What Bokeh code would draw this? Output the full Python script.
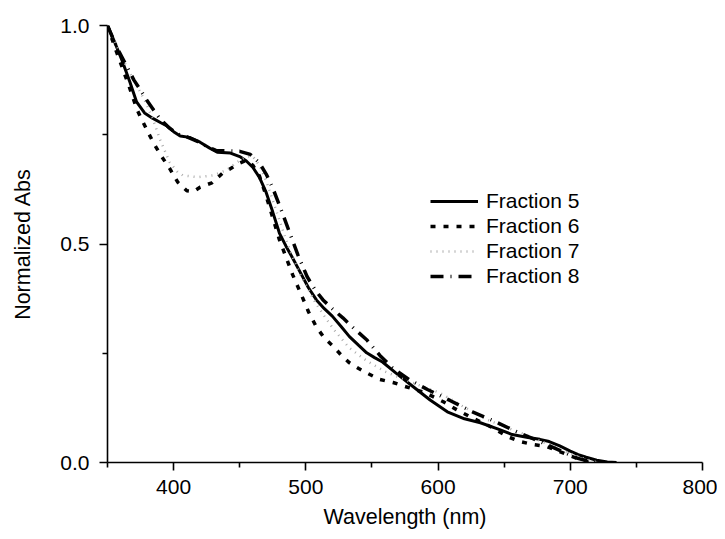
from bokeh.plotting import figure
from bokeh.models import FixedTicker, PrintfTickFormatter, Legend, LegendItem, Range1d
from bokeh.embed import file_html
from bokeh.resources import INLINE

# ---- data ----
wl5 = [350, 355, 361, 367, 372, 378, 384, 390, 395, 400, 405, 412, 420, 427, 433, 443, 450, 455, 460, 465, 470, 475, 480, 485, 490, 496, 502, 508, 514, 520, 527, 533, 540, 546, 552, 558, 568, 581, 594, 607, 620, 632, 645, 656, 668, 677, 684, 692, 700, 706, 712, 720, 728, 735]
ab5 = [1.0, 0.965, 0.92, 0.87, 0.825, 0.80, 0.788, 0.778, 0.770, 0.757, 0.747, 0.744, 0.733, 0.720, 0.710, 0.708, 0.700, 0.690, 0.675, 0.652, 0.618, 0.573, 0.525, 0.495, 0.468, 0.434, 0.400, 0.372, 0.352, 0.335, 0.310, 0.288, 0.268, 0.251, 0.240, 0.230, 0.205, 0.174, 0.143, 0.116, 0.100, 0.091, 0.077, 0.064, 0.057, 0.053, 0.048, 0.038, 0.026, 0.018, 0.012, 0.005, 0.001, 0.0]

wl6 = [350, 355, 361, 367, 372, 375, 380, 385, 391, 397, 403, 410, 415, 420, 429, 437, 445, 450, 455, 460, 465, 470, 475, 480, 485, 490, 496, 502, 508, 514, 521, 527, 533, 540, 546, 556, 566, 575, 590, 604, 614, 624, 641, 652, 662, 672, 682, 692, 701, 711, 718]
ab6 = [1.0, 0.955, 0.905, 0.855, 0.81, 0.79, 0.76, 0.73, 0.70, 0.673, 0.642, 0.622, 0.620, 0.630, 0.640, 0.662, 0.676, 0.685, 0.692, 0.680, 0.655, 0.610, 0.560, 0.510, 0.470, 0.430, 0.388, 0.345, 0.310, 0.285, 0.265, 0.245, 0.228, 0.215, 0.205, 0.190, 0.183, 0.174, 0.160, 0.139, 0.121, 0.105, 0.080, 0.060, 0.048, 0.041, 0.037, 0.025, 0.014, 0.003, 0.0]

wl7 = [350, 356, 362, 370, 379, 385, 390, 397, 403, 407, 418, 430, 440, 448, 455, 460, 465, 470, 475, 480, 485, 490, 496, 502, 508, 514, 521, 527, 533, 540, 546, 552, 560, 571, 588, 601, 619, 637, 652, 669, 687, 700, 712, 722]
ab7 = [1.0, 0.96, 0.92, 0.874, 0.824, 0.78, 0.737, 0.687, 0.665, 0.657, 0.653, 0.657, 0.669, 0.687, 0.700, 0.700, 0.680, 0.645, 0.600, 0.555, 0.510, 0.470, 0.430, 0.395, 0.362, 0.335, 0.305, 0.283, 0.262, 0.246, 0.233, 0.222, 0.208, 0.194, 0.174, 0.160, 0.128, 0.098, 0.080, 0.060, 0.037, 0.020, 0.007, 0.0]

wl8 = [350, 357, 365, 370, 375, 380, 385, 390, 397, 403, 410, 418, 425, 432, 440, 450, 458, 465, 470, 475, 482, 487, 494, 501, 507, 513, 520, 528, 537, 546, 556, 566, 578, 592, 609, 626, 643, 659, 677, 694, 705, 715, 722]
ab8 = [1.0, 0.95, 0.904, 0.875, 0.852, 0.828, 0.806, 0.785, 0.765, 0.752, 0.745, 0.735, 0.723, 0.714, 0.713, 0.712, 0.705, 0.685, 0.660, 0.628, 0.573, 0.532, 0.475, 0.425, 0.395, 0.372, 0.352, 0.331, 0.305, 0.281, 0.245, 0.215, 0.190, 0.167, 0.142, 0.116, 0.094, 0.071, 0.048, 0.025, 0.010, 0.002, 0.0]

labels = ["Fraction 5", "Fraction 6", "Fraction 7", "Fraction 8"]
x_major = [400, 500, 600, 700, 800]
x_minor = [350, 450, 550, 650, 750]
y_major = [0.0, 0.5, 1.0]
y_minor = [0.25, 0.75]
x_title = "Wavelength (nm)"
y_title = "Normalized Abs"

FONT = "Liberation Sans"
FS = "21px"
FS_T = "21.5px"

p = figure(width=717, height=531, output_backend="svg", toolbar_location=None,
           x_range=Range1d(350, 800), y_range=Range1d(0, 1.0),
           min_border_left=107, min_border_right=15, min_border_top=25, min_border_bottom=68,
           x_axis_label=x_title, y_axis_label=y_title)

p.xgrid.visible = False
p.ygrid.visible = False
p.outline_line_color = None
p.background_fill_color = "white"
p.border_fill_color = "white"

r5 = p.line(wl5, ab5, line_color="black", line_width=3)
r6 = p.line(wl6, ab6, line_color="black", line_width=3.5, line_dash="5 8")
r7 = p.line(wl7, ab7, line_color="#ababab", line_width=2.5, line_dash="1 5")
r8 = p.line(wl8, ab8, line_color="black", line_width=3.5, line_dash="13 7 1 7")

for ax in (p.xaxis[0], p.yaxis[0]):
    ax.axis_line_width = 1.6
    ax.axis_line_color = "black"
    ax.major_tick_line_color = "black"
    ax.minor_tick_line_color = "black"
    ax.major_tick_line_width = 1.6
    ax.minor_tick_line_width = 1.6
    ax.major_tick_in = 0
    ax.minor_tick_in = 0
    ax.major_tick_out = 8
    ax.minor_tick_out = 5
    ax.major_label_text_font = FONT
    ax.major_label_text_font_size = FS
    ax.major_label_text_color = "black"
    ax.axis_label_text_font = FONT
    ax.axis_label_text_font_size = FS_T
    ax.axis_label_text_font_style = "normal"
    ax.axis_label_text_color = "black"

p.xaxis[0].ticker = FixedTicker(ticks=x_major, minor_ticks=x_minor)
p.yaxis[0].ticker = FixedTicker(ticks=y_major, minor_ticks=y_minor)
p.yaxis[0].formatter = PrintfTickFormatter(format="%.1f")
p.xaxis[0].major_label_standoff = 9
p.xaxis[0].axis_label_standoff = 8
p.yaxis[0].major_label_standoff = 10
p.yaxis[0].axis_label_standoff = 22

legend = Legend(items=[LegendItem(label=l, renderers=[r]) for l, r in zip(labels, [r5, r6, r7, r8])],
                location=(323, 174), border_line_color=None, background_fill_alpha=0,
                padding=0, margin=0, spacing=1, glyph_width=48, glyph_height=20,
                label_height=20, label_standoff=8,
                label_text_font=FONT, label_text_font_size=FS, label_text_color="black")
p.add_layout(legend, "center")

open("out.html", "w").write(file_html(p, INLINE))
